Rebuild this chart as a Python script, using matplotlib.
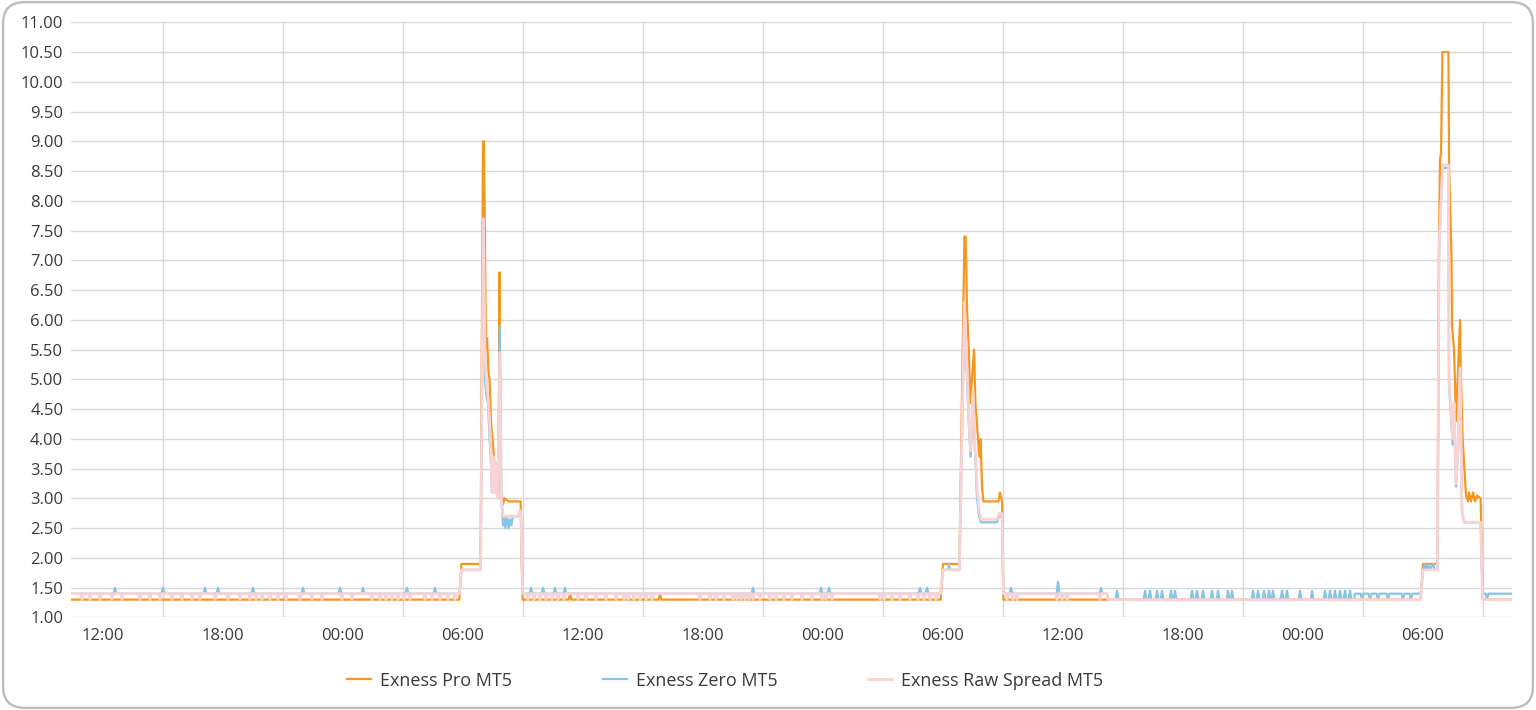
import matplotlib
matplotlib.use("Agg")
import matplotlib.pyplot as plt
from matplotlib.patches import FancyBboxPatch

plt.rcParams["font.family"] = ["Open Sans", "DejaVu Sans"]

# x values are hours counted from 00:00 of the first day
START, END = 10.4, 82.45
tick_hours = [12, 18, 24, 30, 36, 42, 48, 54, 60, 66, 72, 78]
tick_labels = ["12:00", "18:00", "00:00", "06:00", "12:00", "18:00",
               "00:00", "06:00", "12:00", "18:00", "00:00", "06:00"]
grid_hours = [15, 21, 27, 33, 39, 45, 51, 57, 63, 69, 75, 81]

series_names = ["Exness Pro MT5", "Exness Zero MT5", "Exness Raw Spread MT5"]

# key points (hour, spread)
pro_pts = [
    (10.4, 1.3),
    (29.82, 1.3), (29.92, 1.9), (30.88, 1.9), (31.0, 9.0), (31.05, 9.0), (31.15, 5.5),
    (31.2, 5.7), (31.28, 5.1), (31.33, 5.0), (31.4, 4.3), (31.5, 3.9), (31.57, 3.6),
    (31.65, 3.3), (31.78, 3.2), (31.83, 6.8), (31.88, 3.0), (31.95, 3.05), (32.0, 2.9),
    (32.08, 3.0), (32.3, 2.95), (32.88, 2.95), (32.98, 1.3),
    (53.88, 1.3), (54.0, 1.9), (54.82, 1.9), (55.07, 7.4), (55.13, 7.4), (55.2, 6.2),
    (55.3, 5.4), (55.36, 4.6), (55.55, 5.5), (55.62, 4.6), (55.75, 4.0), (55.82, 3.7),
    (55.88, 4.0), (55.95, 3.2), (56.02, 2.95), (56.77, 2.95), (56.85, 3.1), (56.95, 2.95),
    (57.02, 1.3),
    (77.88, 1.3), (78.0, 1.9), (78.72, 1.9), (78.8, 7.3), (78.85, 8.7), (78.9, 8.8),
    (78.97, 10.5), (79.27, 10.5), (79.3, 8.6), (79.42, 7.1), (79.45, 5.9), (79.55, 5.5),
    (79.65, 4.3), (79.72, 4.9), (79.85, 6.0), (79.88, 5.2), (79.98, 4.0), (80.15, 3.05),
    (80.25, 2.95), (80.3, 3.1), (80.4, 2.95), (80.5, 3.1), (80.6, 2.95), (80.7, 3.05),
    (80.88, 3.0), (80.98, 1.3),
    (82.45, 1.3),
]
pro_pops = [35.35, 39.85]  # 1.30 -> 1.40

zero_pts = [
    (10.4, 1.4),
    (29.82, 1.4), (29.92, 1.8), (30.88, 1.8), (31.02, 7.6), (31.1, 5.0), (31.18, 4.7),
    (31.25, 4.6), (31.33, 4.0), (31.4, 3.6), (31.45, 3.1), (31.53, 3.5), (31.6, 3.1),
    (31.68, 3.4), (31.75, 3.0), (31.84, 5.9), (31.92, 3.0), (32.0, 2.55), (32.05, 2.7),
    (32.12, 2.5), (32.2, 2.7), (32.28, 2.5), (32.35, 2.65), (32.42, 2.55), (32.5, 2.7),
    (32.9, 2.7), (32.98, 1.4),
    (53.88, 1.4), (54.0, 1.8), (54.25, 1.8), (54.3, 1.9), (54.35, 1.8), (54.82, 1.8),
    (55.07, 6.2), (55.2, 5.0), (55.3, 4.2), (55.38, 3.7), (55.5, 4.7), (55.6, 3.8),
    (55.7, 3.0), (55.8, 2.7), (55.9, 2.6), (56.7, 2.6), (56.8, 2.7), (56.95, 2.7),
    (57.02, 1.4),
    (62.2, 1.4), (62.25, 1.3),
    (74.55, 1.3), (74.6, 1.4),
    (77.88, 1.4), (78.0, 1.8), (78.1, 1.9), (78.15, 1.8), (78.27, 1.9), (78.32, 1.8),
    (78.52, 1.9), (78.57, 1.8), (78.72, 1.8), (78.8, 7.2), (78.98, 8.55), (79.27, 8.55),
    (79.3, 4.9), (79.4, 4.4), (79.48, 3.9), (79.55, 4.5), (79.65, 3.2), (79.75, 3.8),
    (79.85, 5.1), (79.95, 2.75), (80.05, 2.6), (80.88, 2.6), (80.98, 1.4),
    (82.45, 1.4),
]
zero_pops_hi = [12.6, 15.0, 17.1, 17.75, 19.5, 22.0, 23.85, 25.0, 27.2, 28.6,
                33.4, 34.0, 34.6, 35.1, 44.5, 47.9, 48.3, 52.85, 53.2, 57.4, 61.9]  # 1.40 -> 1.50
zero_spike = [59.75]  # 1.40 -> 1.60
zero_pops_lo = [62.7, 64.1, 64.35, 64.7, 64.95, 65.4, 65.6, 66.45, 66.7, 67.0, 67.45,
                67.75, 68.25, 68.45, 69.5, 69.75, 70.05, 70.3, 70.5, 70.95, 71.2, 71.85,
                72.45, 73.1, 73.35, 73.6, 73.85, 74.1, 74.35]  # 1.30 -> 1.45
zero_dips = [74.95, 75.35, 75.75, 76.25, 77.0, 77.4, 81.2]  # 1.40 -> 1.30

raw_pts = [
    (10.4, 1.4),
    (29.82, 1.4), (29.92, 1.8), (30.88, 1.8), (31.02, 7.7), (31.1, 5.4), (31.18, 4.9),
    (31.25, 4.7), (31.33, 4.3), (31.4, 3.8), (31.45, 3.1), (31.53, 3.7), (31.6, 3.1),
    (31.68, 3.6), (31.75, 3.0), (31.84, 5.45), (31.92, 3.0), (32.0, 2.7), (32.75, 2.7),
    (32.85, 2.8), (32.9, 2.7), (32.98, 1.4),
    (53.88, 1.4), (54.0, 1.8), (54.82, 1.8), (55.07, 6.3), (55.2, 5.2), (55.3, 4.3),
    (55.38, 3.8), (55.5, 4.8), (55.6, 3.9), (55.7, 3.2), (55.8, 2.8), (55.9, 2.65),
    (56.7, 2.65), (56.8, 2.75), (56.95, 2.75), (57.02, 1.4),
    (62.2, 1.4), (62.25, 1.3),
    (77.88, 1.3), (78.0, 1.8), (78.72, 1.8), (78.8, 7.2), (78.98, 8.6), (79.27, 8.6),
    (79.3, 5.0), (79.4, 4.5), (79.48, 4.0), (79.55, 4.6), (79.65, 3.25), (79.75, 3.9),
    (79.85, 5.2), (79.95, 2.8), (80.05, 2.6), (80.88, 2.6), (80.98, 1.3),
    (82.45, 1.3),
]
raw_dips = [10.95, 11.35, 11.85, 12.45, 12.95, 13.85, 14.35, 14.85, 15.45, 15.95, 16.45,
            16.85, 17.6, 18.25, 18.85, 19.35, 19.65, 19.95, 20.35, 20.75, 21.15, 21.85,
            22.45, 22.95, 23.95, 24.45, 25.45, 25.85, 26.15, 26.45, 26.75, 27.05, 27.35,
            28.1, 28.45, 28.85, 29.25, 29.6,
            33.25, 33.55, 33.85, 34.15, 34.45, 34.75, 35.05, 35.75, 36.15, 36.65, 37.15,
            37.65, 38.05, 38.25, 38.55, 38.85, 39.15, 39.45, 41.85, 42.35, 42.65, 43.05,
            43.5, 43.7, 43.9, 44.1, 44.3, 44.5, 44.85, 45.35, 45.65, 46.05, 46.45, 46.95,
            47.45, 47.95, 48.15, 48.45, 50.85, 51.05, 51.45, 51.85, 52.35, 52.75, 53.05,
            53.35, 53.65,
            57.2, 57.5, 57.7, 59.7, 59.95, 60.2, 61.85]  # 1.40 -> 1.30


def build(points, blips, half=0.07):
    # blips are (hour, base, top) short excursions from a flat stretch
    pts = list(points)
    for t, base, top in blips:
        pts += [(t - half, base), (t, top), (t + half, base)]
    pts.sort()
    return [p[0] for p in pts], [p[1] for p in pts]


pro_t, pro_v = build(pro_pts, [(t, 1.3, 1.4) for t in pro_pops])
zero_t, zero_v = build(zero_pts,
                       [(t, 1.4, 1.5) for t in zero_pops_hi]
                       + [(t, 1.4, 1.6) for t in zero_spike]
                       + [(t, 1.3, 1.45) for t in zero_pops_lo]
                       + [(t, 1.4, 1.3) for t in zero_dips])
raw_t, raw_v = build(raw_pts, [(t, 1.4, 1.3) for t in raw_dips])

fig = plt.figure(figsize=(15.36, 7.10), dpi=100)
fig.patches.append(FancyBboxPatch((0.002, 0.003), 0.996, 0.994,
                                  boxstyle="round,pad=0,rounding_size=0.014",
                                  mutation_aspect=1536 / 710,
                                  transform=fig.transFigure, facecolor="white",
                                  edgecolor="#bdbdbd", linewidth=1.7, zorder=-5))
ax = fig.add_axes([0.0462, 0.1303, 0.9382, 0.8383])
ax.set_facecolor("none")

ax.plot(pro_t, pro_v, color="#f5961f", lw=1.6, zorder=3, label=series_names[0])
ax.plot(zero_t, zero_v, color="#86c5e6", lw=1.6, zorder=4, label=series_names[1])
ax.plot(raw_t, raw_v, color="#f8d3d3", lw=2.0, zorder=5, label=series_names[2])

ax.set_xlim(START, END)
ax.set_ylim(1.0, 11.0)
ax.set_yticks([1.0 + 0.5 * i for i in range(21)])
ax.set_yticklabels(["%.2f" % (1.0 + 0.5 * i) for i in range(21)])
ax.set_xticks(tick_hours)
ax.set_xticklabels(tick_labels)
ax.set_xticks(grid_hours, minor=True)
ax.tick_params(axis="both", which="both", length=0, labelsize=12, colors="#3a3a3a")
ax.tick_params(axis="x", pad=7.5)
ax.tick_params(axis="y", pad=5.5)
ax.grid(axis="y", which="major", color="#d8d8d8", lw=1.0)
ax.grid(axis="x", which="minor", color="#d8d8d8", lw=1.0)
ax.grid(axis="x", which="major", visible=False)
for s in ax.spines.values():
    s.set_visible(False)

ax.legend(loc="center", bbox_to_anchor=(0.454, -0.106), ncol=3, frameon=False,
          fontsize=13, handlelength=1.35, handletextpad=0.5, columnspacing=5.0,
          labelcolor="#3a3a3a")

fig.savefig("out.png", dpi=100)
